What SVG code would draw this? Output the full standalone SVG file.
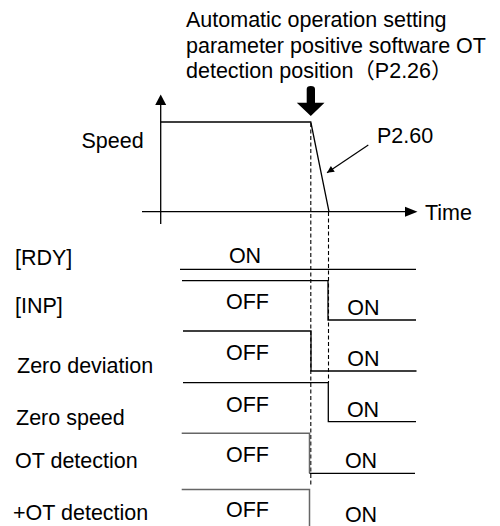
<svg xmlns="http://www.w3.org/2000/svg" width="500" height="526" viewBox="0 0 500 526">
<style>
text{font-family:"Liberation Sans","Noto Sans CJK SC",Arial,sans-serif;font-size:21.5px;fill:#000}
.c{text-anchor:middle}
.ln{fill:none;stroke:#000;stroke-width:1.3}
.gr{fill:none;stroke:#666;stroke-width:1.5}
.dash{fill:none;stroke:#000;stroke-width:1.1;stroke-dasharray:4 2.5}
</style>
<defs>
<marker id="ah" viewBox="0 0 10 10" refX="10" refY="5" markerWidth="10" markerHeight="7" markerUnits="userSpaceOnUse" orient="auto"><path d="M0,0 L10,5 L0,10 Z" fill="#000"/></marker>
</defs>
<g id="header">
<text x="186" y="26.5" font-size="22">Automatic operation setting</text>
<text x="186" y="52.5" font-size="22">parameter positive software OT</text>
<text x="186" y="77.5" font-size="22">detection position（P2.26）</text>
</g>
<g id="big-arrow">
<path d="M306.7,89 Q306.7,86 310.8,86 Q315,86 315,89 L315,102.7 L324.5,102.7 L310.8,116 L296.8,102.7 L306.7,102.7 Z" fill="#000"/>
</g>
<g id="speed-graph">
<text x="81.5" y="147.5">Speed</text>
<text x="425" y="220">Time</text>
<text x="377" y="143.3">P2.60</text>
<line class="ln" x1="160.7" y1="224" x2="160.7" y2="104"/>
<path d="M155.2,105 L160.7,94.5 L166.2,105 Z" fill="#000"/>
<line class="ln" x1="142" y1="211.7" x2="406" y2="211.7"/>
<path d="M405,206.7 L417.5,211.7 L405,216.7 Z" fill="#000"/>
<polyline class="ln" points="160.7,122 310.8,122 329,211.7"/>
</g>
<g id="connectors">
<line class="dash" x1="310.8" y1="123" x2="310.8" y2="486"/>
<line class="dash" x1="328.5" y1="212" x2="328.5" y2="383"/>
<line x1="368.3" y1="145" x2="327" y2="172.7" stroke="#000" stroke-width="1.2" marker-end="url(#ah)"/>
</g>
<g id="row-rdy">
<text x="15" y="264.5">[RDY]</text>
<line class="ln" x1="180" y1="269.3" x2="416" y2="269.3"/>
<text class="c" x="245" y="263.3">ON</text>
</g>
<g id="row-inp">
<text x="15" y="313">[INP]</text>
<polyline class="ln" stroke="#222" points="182,280.7 328,280.7 328,320 416,320"/>
<text class="c" x="247.5" y="309.3">OFF</text>
<text class="c" x="363.3" y="315">ON</text>
</g>
<g id="row-zero-deviation">
<text x="17" y="372.5">Zero deviation</text>
<polyline class="ln" points="183,331 311,331 311,371 416.5,371"/>
<text class="c" x="247.5" y="360">OFF</text>
<text class="c" x="363.3" y="366">ON</text>
</g>
<g id="row-zero-speed">
<text x="16" y="425">Zero speed</text>
<polyline class="ln" points="183,382.7 328.3,382.7 328.3,421.7 416,421.7"/>
<text class="c" x="247.5" y="411.7">OFF</text>
<text class="c" x="363" y="417.3">ON</text>
</g>
<g id="row-ot">
<text x="15" y="468">OT detection</text>
<polyline class="gr" points="181.7,433.3 309.5,433.3 309.5,473.3"/>
<line class="ln" x1="309.5" y1="473.3" x2="415" y2="473.3"/>
<text class="c" x="247.5" y="461.7">OFF</text>
<text class="c" x="361" y="467.7">ON</text>
</g>
<g id="row-plus-ot">
<text x="13" y="519.5">+OT detection</text>
<polyline class="gr" points="181.7,489.5 309.5,489.5 309.5,526"/>
<text class="c" x="247.5" y="516.5">OFF</text>
<text class="c" x="361" y="521.5">ON</text>
</g>
</svg>
